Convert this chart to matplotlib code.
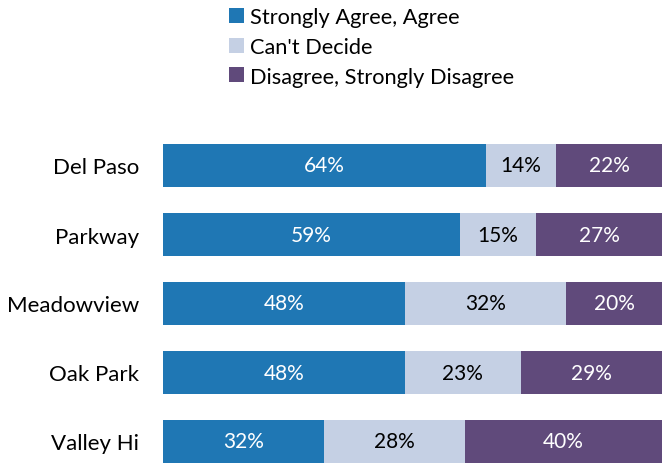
import matplotlib
matplotlib.use("Agg")
import matplotlib.pyplot as plt
from matplotlib.patches import Patch

categories = ["Del Paso", "Parkway", "Meadowview", "Oak Park", "Valley Hi"]
agree = [64, 59, 48, 48, 32]
cant_decide = [14, 15, 32, 23, 28]
disagree = [22, 27, 20, 29, 40]
series_names = ["Strongly Agree, Agree", "Can't Decide", "Disagree, Strongly Disagree"]
colors = ["#1F77B4", "#C5D0E4", "#604A7B"]
text_colors = ["white", "black", "white"]

plt.rcParams['font.family'] = ['Lato', 'DejaVu Sans']

W, H = 662, 464
fig = plt.figure(figsize=(W / 100, H / 100), dpi=100)
top_px, bot_px = 130, 464
ax = fig.add_axes([163 / W, 1 - bot_px / H, 1 - 163 / W, (bot_px - top_px) / H])

y = list(range(len(categories)))
bar_h = 43 / 69
left = [0] * len(categories)
for vals, col, tc in zip([agree, cant_decide, disagree], colors, text_colors):
    bars = ax.barh(y, vals, left=left, height=bar_h, color=col, edgecolor='none')
    labels = [f"{v}%" for v in vals]
    ax.bar_label(bars, labels=labels, label_type='center', color=tc, fontsize=15)
    left = [l + v for l, v in zip(left, vals)]

ax.set_xlim(0, 99.0)
ax.set_ylim((bot_px - 166.5) / 69, (top_px - 166.5) / 69)
ax.set_yticks(y)
ax.set_yticklabels(categories, fontsize=16)
ax.tick_params(axis='y', length=0, pad=17)
ax.set_xticks([])
for s in ax.spines.values():
    s.set_visible(False)

handles = [Patch(facecolor=c, edgecolor='none') for c in colors]
fig.legend(handles, series_names, loc='upper left', bbox_to_anchor=(229 / W, 1 - 8 / H),
           frameon=False, fontsize=15.7, handlelength=0.68, handleheight=0.68,
           handletextpad=0.3, labelspacing=0.45, borderaxespad=0, borderpad=0)

fig.savefig("out.png", dpi=100)
